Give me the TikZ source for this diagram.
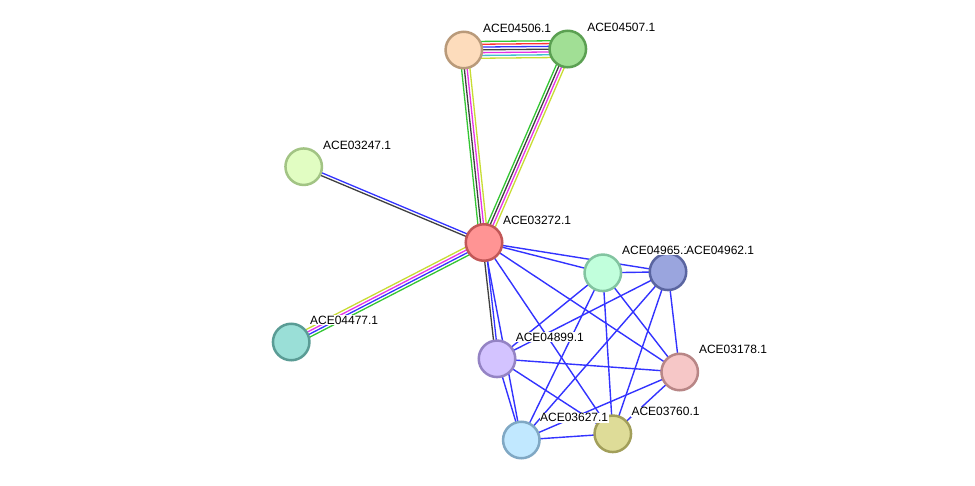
\documentclass[tikz,border=0pt]{standalone}
\usepackage{fontspec}
\setmainfont{Liberation Sans}
\usetikzlibrary{calc}
\pgfdeclarelayer{back}
\pgfdeclarelayer{bg}
\pgfsetlayers{back,bg,main}
\definecolor{egreen}{HTML}{33C633}
\definecolor{ered}{HTML}{FF3333}
\definecolor{eblue}{HTML}{3333FF}
\definecolor{edark}{HTML}{404040}
\definecolor{emag}{HTML}{E633E6}
\definecolor{ecyan}{HTML}{40C0D0}
\definecolor{eyel}{HTML}{C8DC33}
\definecolor{fA}{HTML}{FDDCBC}\definecolor{dA}{HTML}{B99A7A}
\definecolor{fB}{HTML}{A1DF95}\definecolor{dB}{HTML}{5BA052}
\definecolor{fC}{HTML}{E1FDC2}\definecolor{dC}{HTML}{A2C484}
\definecolor{fD}{HTML}{FF9494}\definecolor{dD}{HTML}{C25757}
\definecolor{fE}{HTML}{9ADFD7}\definecolor{dE}{HTML}{5A9C95}
\definecolor{fF}{HTML}{C1FFDC}\definecolor{dF}{HTML}{82C4A0}
\definecolor{fG}{HTML}{9AA5DE}\definecolor{dG}{HTML}{5A65A0}
\definecolor{fH}{HTML}{D3C3FF}\definecolor{dH}{HTML}{9483C4}
\definecolor{fI}{HTML}{F6C7C7}\definecolor{dI}{HTML}{B88686}
\definecolor{fJ}{HTML}{C1E8FF}\definecolor{dJ}{HTML}{80A8C4}
\definecolor{fK}{HTML}{DEDC98}\definecolor{dK}{HTML}{A29F5A}
\newcommand\medge[3]{%
  \foreach \cc [count=\ii] in {#3} {\xdef\nlines{\ii}}%
  \foreach \cc [count=\ii] in {#3} {%
    \pgfmathsetmacro\oo{((\nlines+1)/2-\ii)*2.8}%
    \draw[line width=1.3pt, draw=\cc] ($(#1.center)!\oo pt!90:(#2.center)$) -- ($(#2.center)!\oo pt!-90:(#1.center)$);
  }}
\tikzset{
  prot/.style={circle, minimum size=36.5pt, inner sep=0pt, line width=2.5pt},
  lbl/.style={font=\fontsize{12}{14}\selectfont, anchor=west, inner sep=0.6pt, fill=white},
  bedge/.style={line width=1.4pt, draw=eblue}
}
\begin{document}
\begin{tikzpicture}[x=1pt,y=-1pt]
\begin{pgfonlayer}{back}
\fill[white] (0,0) rectangle (975,485);
\end{pgfonlayer}
\useasboundingbox (0,0) rectangle (975,485);
% nodes
\node[prot, fill=fA, draw=dA] (n04506) at (463.8,50) {};
\node[prot, fill=fB, draw=dB] (n04507) at (567.8,49) {};
\node[prot, fill=fC, draw=dC] (n03247) at (303.7,166.7) {};
\node[prot, fill=fD, draw=dD] (n03272) at (484,242.5) {};
\node[prot, fill=fE, draw=dE] (n04477) at (291.2,342) {};
\node[prot, fill=fF, draw=dF] (n04965) at (602.8,272.8) {};
\node[prot, fill=fG, draw=dG] (n04962) at (668,271.8) {};
\node[prot, fill=fH, draw=dH] (n04899) at (497,358.8) {};
\node[prot, fill=fI, draw=dI] (n03178) at (679.7,372) {};
\node[prot, fill=fJ, draw=dJ] (n03627) at (521.3,440) {};
\node[prot, fill=fK, draw=dK] (n03760) at (612.8,433.8) {};
% labels
\node[lbl] (l04506) at (482.3,28.4) {ACE04506.1};
\node[lbl] (l04507) at (586.5,27.3) {ACE04507.1};
\node[lbl] (l03247) at (322.3,145.5) {ACE03247.1};
\node[lbl] (l03272) at (502.2,220.8) {ACE03272.1};
\node[lbl] (l04477) at (309.3,320) {ACE04477.1};
\node[lbl] (l04965) at (621.3,250.3) {ACE04965.1};
\node[lbl] (l04962) at (685.3,250.3) {ACE04962.1};
\node[lbl] (l04899) at (515,337) {ACE04899.1};
\node[lbl] (l03178) at (698.2,349.7) {ACE03178.1};
\node[lbl] (l03627) at (539.3,417.7) {ACE03627.1};
\node[lbl] (l03760) at (630.7,411.7) {ACE03760.1};
% edges
\begin{pgfonlayer}{bg}
\medge{n04506}{n04507}{egreen,ered,eblue,edark,emag,ecyan,eyel}
\medge{n03272}{n04506}{egreen,edark,emag,eyel}
\medge{n03272}{n04507}{egreen,edark,emag,eyel}
\medge{n03247}{n03272}{eblue,edark}
\medge{n04477}{n03272}{eyel,emag,eblue,egreen}
\medge{n03272}{n04899}{eblue,edark}
\foreach \a/\b in {n03272/n04965, n03272/n04962, n03272/n03627, n03272/n03760, n03272/n03178,
  n04965/n04962, n04965/n04899, n04965/n03627, n04965/n03760, n04965/n03178,
  n04962/n04899, n04962/n03627, n04962/n03760, n04962/n03178,
  n04899/n03178, n04899/n03627, n04899/n03760,
  n03178/n03627, n03178/n03760, n03627/n03760}
  \draw[bedge] (\a.center) -- (\b.center);
\end{pgfonlayer}
\end{tikzpicture}
\end{document}
